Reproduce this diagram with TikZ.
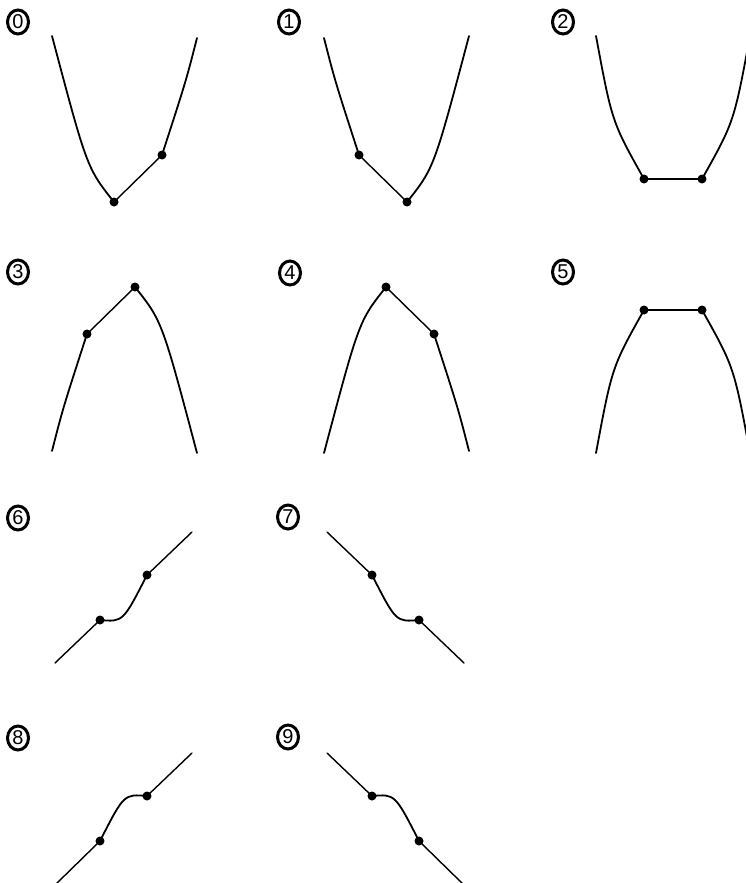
\documentclass[tikz,border=0pt]{standalone}
\usepackage{fontspec}
\setsansfont{Liberation Sans}
\usetikzlibrary{shapes.geometric}

\begin{document}
\begin{tikzpicture}[x=1pt,y=-1pt,
   trazo/.style={line width=1.8pt,line cap=round},
   recta/.style={line width=1.4pt,line cap=round},
   punto/.style={circle,fill,inner sep=0pt,minimum size=9pt},
   numero/.style={ellipse,draw,line width=3pt,inner sep=0pt,minimum width=21pt,
     minimum height=24pt,font=\sffamily\fontsize{20}{20}\selectfont}]
  \useasboundingbox (0,0) rectangle (746,883);
  \clip (0,0) rectangle (746,883);
  % numeros
  \foreach \n/\x/\y in {0/18/22,1/289/22,2/563/22,3/18/272,4/290/273,
                        5/563/272,6/18/518,7/288/517,8/18/738,9/288/737}
    \node[numero] (num\n) at (\x,\y) {\n};
  % --- 0 ---
  \coordinate (a0) at (52,36);
  \coordinate (b0) at (197,38);
  \node[punto] (p0a) at (114,202) {};
  \node[punto] (p0b) at (162,155) {};
  \draw[trazo] (a0) .. controls (87,168) .. (p0a.center);
  \draw[recta] (p0a.center) -- (p0b.center);
  \draw[trazo] (p0b.center) .. controls (186,81) .. (b0);
  % --- 1 ---
  \coordinate (a1) at (469,36);
  \coordinate (b1) at (324,38);
  \node[punto] (p1a) at (407,202) {};
  \node[punto] (p1b) at (359,155) {};
  \draw[trazo] (a1) .. controls (434,168) .. (p1a.center);
  \draw[recta] (p1a.center) -- (p1b.center);
  \draw[trazo] (p1b.center) .. controls (335,81) .. (b1);
  % --- 2 ---
  \coordinate (a2) at (596,36);
  \coordinate (b2) at (750,36);
  \node[punto] (p2a) at (644,179) {};
  \node[punto] (p2b) at (702,179) {};
  \draw[trazo] (a2) .. controls (612,122) .. (p2a.center);
  \draw[recta] (p2a.center) -- (p2b.center);
  \draw[trazo] (p2b.center) .. controls (734,122) .. (b2);
  % --- 3 ---
  \coordinate (a3) at (197,453);
  \coordinate (b3) at (52,451);
  \node[punto] (p3a) at (135,287) {};
  \node[punto] (p3b) at (87,334) {};
  \draw[trazo] (a3) .. controls (162,321) .. (p3a.center);
  \draw[recta] (p3a.center) -- (p3b.center);
  \draw[trazo] (p3b.center) .. controls (63,408) .. (b3);
  % --- 4 ---
  \coordinate (a4) at (324,453);
  \coordinate (b4) at (469,451);
  \node[punto] (p4a) at (386,287) {};
  \node[punto] (p4b) at (434,334) {};
  \draw[trazo] (a4) .. controls (359,321) .. (p4a.center);
  \draw[recta] (p4a.center) -- (p4b.center);
  \draw[trazo] (p4b.center) .. controls (458,408) .. (b4);
  % --- 5 ---
  \coordinate (a5) at (596,453);
  \coordinate (b5) at (750,453);
  \node[punto] (p5a) at (644,310) {};
  \node[punto] (p5b) at (702,310) {};
  \draw[trazo] (a5) .. controls (612,367) .. (p5a.center);
  \draw[recta] (p5a.center) -- (p5b.center);
  \draw[trazo] (p5b.center) .. controls (734,367) .. (b5);
  % --- 6 ---
  \coordinate (a6) at (55,663);
  \coordinate (b6) at (192,532);
  \node[punto] (p6a) at (100,620) {};
  \node[punto] (p6b) at (147,575) {};
  \draw[recta] (a6) -- (p6a.center);
  \draw[trazo] (p6a.center) .. controls (123,622) .. (p6b.center);
  \draw[recta] (p6b.center) -- (b6);
  % --- 7 ---
  \coordinate (a7) at (464,663);
  \coordinate (b7) at (327,532);
  \node[punto] (p7a) at (419,620) {};
  \node[punto] (p7b) at (372,575) {};
  \draw[recta] (a7) -- (p7a.center);
  \draw[trazo] (p7a.center) .. controls (396,622) .. (p7b.center);
  \draw[recta] (p7b.center) -- (b7);
  % --- 8 ---
  \coordinate (a8) at (54,886);
  \coordinate (b8) at (192,753);
  \node[punto] (p8a) at (100,841) {};
  \node[punto] (p8b) at (147,796) {};
  \draw[recta] (a8) -- (p8a.center);
  \draw[trazo] (p8a.center) .. controls (124,794) .. (p8b.center);
  \draw[recta] (p8b.center) -- (b8);
  % --- 9 ---
  \coordinate (a9) at (465,886);
  \coordinate (b9) at (327,753);
  \node[punto] (p9a) at (419,841) {};
  \node[punto] (p9b) at (372,796) {};
  \draw[recta] (a9) -- (p9a.center);
  \draw[trazo] (p9a.center) .. controls (395,794) .. (p9b.center);
  \draw[recta] (p9b.center) -- (b9);
\end{tikzpicture}
\end{document}
